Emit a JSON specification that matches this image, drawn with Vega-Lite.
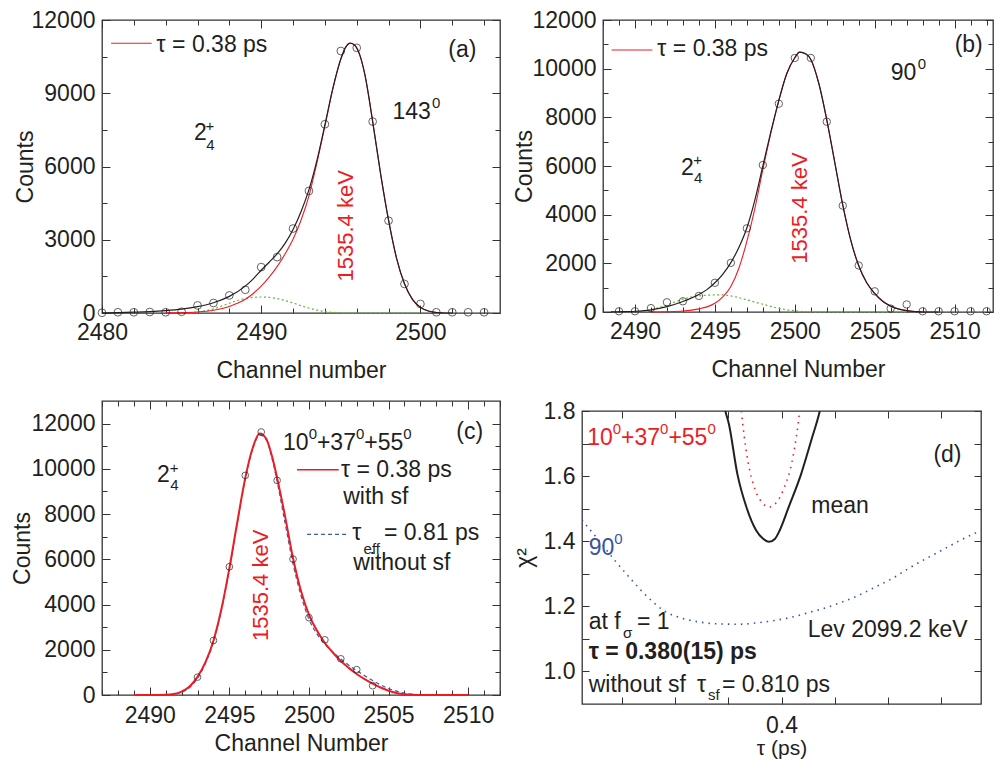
{
"$schema": "https://vega.github.io/schema/vega-lite/v6.json",
"background": "white",
"padding": {"left": 10, "top": 8, "right": 0, "bottom": 0},
"datasets": {
"a_pts": [{"ch":2480,"n":10},{"ch":2481,"n":30},{"ch":2482,"n":30},{"ch":2483,"n":40},{"ch":2484,"n":30},{"ch":2485,"n":50},{"ch":2486,"n":310},{"ch":2487,"n":410},{"ch":2488,"n":720},{"ch":2489,"n":950},{"ch":2490,"n":1880},{"ch":2491,"n":2290},{"ch":2492,"n":3460},{"ch":2493,"n":5000},{"ch":2494,"n":7730},{"ch":2495,"n":10730},{"ch":2496,"n":10860},{"ch":2497,"n":7840},{"ch":2498,"n":3780},{"ch":2499,"n":1190},{"ch":2500,"n":370},{"ch":2501,"n":30},{"ch":2502,"n":30},{"ch":2503,"n":30},{"ch":2504,"n":30}],
"a_blk": [{"ch":2480,"n":5},{"ch":2481,"n":15},{"ch":2482,"n":35},{"ch":2483,"n":60},{"ch":2484,"n":100},{"ch":2485,"n":160},{"ch":2486,"n":260},{"ch":2487,"n":420},{"ch":2488,"n":680},{"ch":2489,"n":1100},{"ch":2489.5,"n":1400},{"ch":2490,"n":1750},{"ch":2490.5,"n":2080},{"ch":2491,"n":2420},{"ch":2491.5,"n":2850},{"ch":2492,"n":3420},{"ch":2492.5,"n":4150},{"ch":2493,"n":5050},{"ch":2493.5,"n":6250},{"ch":2494,"n":7700},{"ch":2494.5,"n":9200},{"ch":2495,"n":10400},{"ch":2495.3,"n":10880},{"ch":2495.6,"n":11050},{"ch":2495.9,"n":10950},{"ch":2496.2,"n":10550},{"ch":2496.5,"n":9800},{"ch":2497,"n":7850},{"ch":2497.5,"n":5700},{"ch":2498,"n":3800},{"ch":2498.5,"n":2250},{"ch":2499,"n":1200},{"ch":2499.5,"n":560},{"ch":2500,"n":230},{"ch":2500.5,"n":80},{"ch":2501,"n":20},{"ch":2501.5,"n":0},{"ch":2502,"n":0}],
"a_red": [{"ch":2484,"n":5},{"ch":2485,"n":15},{"ch":2486,"n":40},{"ch":2487,"n":110},{"ch":2488,"n":270},{"ch":2489,"n":560},{"ch":2489.5,"n":800},{"ch":2490,"n":1100},{"ch":2490.5,"n":1470},{"ch":2491,"n":1900},{"ch":2491.5,"n":2420},{"ch":2492,"n":3020},{"ch":2492.5,"n":3800},{"ch":2493,"n":4800},{"ch":2493.5,"n":6150},{"ch":2494,"n":7650},{"ch":2494.5,"n":9180},{"ch":2495,"n":10400},{"ch":2495.3,"n":10880},{"ch":2495.6,"n":11050},{"ch":2495.9,"n":10950},{"ch":2496.2,"n":10550},{"ch":2496.5,"n":9800},{"ch":2497,"n":7850},{"ch":2497.5,"n":5700},{"ch":2498,"n":3800},{"ch":2498.5,"n":2250},{"ch":2499,"n":1200},{"ch":2499.5,"n":560},{"ch":2500,"n":230},{"ch":2500.5,"n":80},{"ch":2501,"n":20},{"ch":2501.5,"n":0}],
"a_grn": [{"ch":2485.5,"n":10},{"ch":2486,"n":40},{"ch":2486.5,"n":90},{"ch":2487,"n":170},{"ch":2487.5,"n":280},{"ch":2488,"n":400},{"ch":2488.5,"n":510},{"ch":2489,"n":590},{"ch":2489.5,"n":640},{"ch":2490,"n":655},{"ch":2490.5,"n":640},{"ch":2491,"n":590},{"ch":2491.5,"n":510},{"ch":2492,"n":410},{"ch":2492.5,"n":300},{"ch":2493,"n":200},{"ch":2493.5,"n":120},{"ch":2494,"n":60},{"ch":2494.5,"n":25},{"ch":2495,"n":10},{"ch":2496,"n":0},{"ch":2500,"n":0}],
"a_leg": [{"ch":2480.57,"ch2":2483.12,"n":11045}],
"a_txt": [{"ch":2483.43,"n":10703,"t":"τ = 0.38 ps"},{"ch":2498.25,"n":7946,"t":"143"},{"ch":2485.78,"n":7086,"t":"2"},{"ch":2501.75,"n":10498,"t":"(a)"}],
"a_sml": [{"ch":2500.73,"n":8384,"t":"0"},{"ch":2486.55,"n":6677,"t":"4"},{"ch":2486.5,"n":7435,"t":"+"}],
"a_rot": [{"ch":2495.3,"n":3570,"t":"1535.4 keV"}],
"b_pts": [{"ch":2489,"n":30},{"ch":2490,"n":30},{"ch":2491,"n":160},{"ch":2492,"n":400},{"ch":2493,"n":440},{"ch":2494,"n":660},{"ch":2495,"n":1200},{"ch":2496,"n":2020},{"ch":2497,"n":3440},{"ch":2498,"n":6040},{"ch":2499,"n":8560},{"ch":2500,"n":10440},{"ch":2501,"n":10440},{"ch":2502,"n":7820},{"ch":2503,"n":4370},{"ch":2504,"n":1910},{"ch":2505,"n":850},{"ch":2506,"n":140},{"ch":2507,"n":310},{"ch":2508,"n":30},{"ch":2509,"n":30},{"ch":2510,"n":30},{"ch":2511,"n":30},{"ch":2512,"n":30}],
"b_blk": [{"ch":2488.5,"n":5},{"ch":2489,"n":10},{"ch":2490,"n":30},{"ch":2491,"n":90},{"ch":2492,"n":220},{"ch":2493,"n":430},{"ch":2494,"n":720},{"ch":2494.5,"n":920},{"ch":2495,"n":1200},{"ch":2495.5,"n":1560},{"ch":2496,"n":2030},{"ch":2496.5,"n":2650},{"ch":2497,"n":3450},{"ch":2497.5,"n":4600},{"ch":2498,"n":6000},{"ch":2498.5,"n":7400},{"ch":2499,"n":8700},{"ch":2499.5,"n":9800},{"ch":2500,"n":10450},{"ch":2500.3,"n":10680},{"ch":2500.7,"n":10600},{"ch":2501,"n":10380},{"ch":2501.5,"n":9400},{"ch":2502,"n":7900},{"ch":2502.5,"n":6150},{"ch":2503,"n":4400},{"ch":2503.5,"n":2950},{"ch":2504,"n":1900},{"ch":2504.5,"n":1200},{"ch":2505,"n":760},{"ch":2505.5,"n":440},{"ch":2506,"n":240},{"ch":2506.5,"n":120},{"ch":2507,"n":55},{"ch":2507.5,"n":20},{"ch":2508,"n":0},{"ch":2509,"n":0}],
"b_red": [{"ch":2491,"n":0},{"ch":2492,"n":10},{"ch":2493,"n":40},{"ch":2494,"n":130},{"ch":2494.5,"n":210},{"ch":2495,"n":360},{"ch":2495.5,"n":620},{"ch":2496,"n":1050},{"ch":2496.5,"n":1800},{"ch":2497,"n":2900},{"ch":2497.5,"n":4250},{"ch":2498,"n":5850},{"ch":2498.5,"n":7350},{"ch":2499,"n":8680},{"ch":2499.5,"n":9800},{"ch":2500,"n":10450},{"ch":2500.3,"n":10680},{"ch":2500.7,"n":10600},{"ch":2501,"n":10380},{"ch":2501.5,"n":9400},{"ch":2502,"n":7900},{"ch":2502.5,"n":6150},{"ch":2503,"n":4400},{"ch":2503.5,"n":2950},{"ch":2504,"n":1900},{"ch":2504.5,"n":1200},{"ch":2505,"n":760},{"ch":2505.5,"n":440},{"ch":2506,"n":240},{"ch":2506.5,"n":120},{"ch":2507,"n":55},{"ch":2507.5,"n":20},{"ch":2508,"n":0}],
"b_grn": [{"ch":2490.5,"n":20},{"ch":2491,"n":95},{"ch":2491.5,"n":180},{"ch":2492,"n":290},{"ch":2492.5,"n":410},{"ch":2493,"n":530},{"ch":2493.5,"n":610},{"ch":2494,"n":660},{"ch":2494.5,"n":690},{"ch":2495,"n":700},{"ch":2495.5,"n":700},{"ch":2496,"n":660},{"ch":2496.5,"n":590},{"ch":2497,"n":500},{"ch":2497.5,"n":410},{"ch":2498,"n":320},{"ch":2498.5,"n":230},{"ch":2499,"n":150},{"ch":2499.5,"n":90},{"ch":2500,"n":50},{"ch":2500.5,"n":20},{"ch":2501,"n":5},{"ch":2502,"n":0},{"ch":2507,"n":0}],
"b_leg": [{"ch":2488.54,"ch2":2491.09,"n":10770}],
"b_txt": [{"ch":2491.4,"n":10510,"t":"τ = 0.38 ps"},{"ch":2506.0,"n":9535,"t":"90"},{"ch":2492.88,"n":5631,"t":"2"},{"ch":2510.0,"n":10674,"t":"(b)"}],
"b_sml": [{"ch":2507.69,"n":9987,"t":"0"},{"ch":2493.7,"n":5289,"t":"4"},{"ch":2493.65,"n":6021,"t":"+"}],
"b_rot": [{"ch":2500.33,"n":4270,"t":"1535.4 keV"}],
"c_pts": [{"ch":2493,"n":790},{"ch":2494,"n":2410},{"ch":2495,"n":5670},{"ch":2496,"n":9710},{"ch":2497,"n":11630},{"ch":2498,"n":9490},{"ch":2499,"n":6010},{"ch":2500,"n":3420},{"ch":2501,"n":2440},{"ch":2502,"n":1600},{"ch":2503,"n":1120},{"ch":2504,"n":410}],
"c_red": [{"ch":2489,"n":0},{"ch":2490,"n":0},{"ch":2491,"n":10},{"ch":2491.5,"n":40},{"ch":2492,"n":150},{"ch":2492.5,"n":380},{"ch":2493,"n":800},{"ch":2493.5,"n":1450},{"ch":2494,"n":2400},{"ch":2494.5,"n":3800},{"ch":2495,"n":5600},{"ch":2495.5,"n":7650},{"ch":2496,"n":9600},{"ch":2496.5,"n":11000},{"ch":2496.9,"n":11560},{"ch":2497.3,"n":11350},{"ch":2497.7,"n":10500},{"ch":2498,"n":9600},{"ch":2498.5,"n":7900},{"ch":2499,"n":6050},{"ch":2499.5,"n":4600},{"ch":2500,"n":3550},{"ch":2500.5,"n":2850},{"ch":2501,"n":2300},{"ch":2501.5,"n":1880},{"ch":2502,"n":1500},{"ch":2502.5,"n":1200},{"ch":2503,"n":930},{"ch":2503.5,"n":700},{"ch":2504,"n":500},{"ch":2504.5,"n":330},{"ch":2505,"n":190},{"ch":2505.5,"n":90},{"ch":2506,"n":35},{"ch":2506.5,"n":10},{"ch":2507,"n":0},{"ch":2510,"n":0}],
"c_blu": [{"ch":2489,"n":0},{"ch":2490,"n":0},{"ch":2491,"n":5},{"ch":2491.5,"n":30},{"ch":2492,"n":120},{"ch":2492.5,"n":330},{"ch":2493,"n":740},{"ch":2493.5,"n":1400},{"ch":2494,"n":2350},{"ch":2494.5,"n":3750},{"ch":2495,"n":5550},{"ch":2495.5,"n":7600},{"ch":2496,"n":9550},{"ch":2496.5,"n":10950},{"ch":2496.9,"n":11500},{"ch":2497.3,"n":11300},{"ch":2497.7,"n":10400},{"ch":2498,"n":9450},{"ch":2498.5,"n":7600},{"ch":2499,"n":5800},{"ch":2499.5,"n":4400},{"ch":2500,"n":3350},{"ch":2500.5,"n":2700},{"ch":2501,"n":2250},{"ch":2501.5,"n":1900},{"ch":2502,"n":1600},{"ch":2502.5,"n":1320},{"ch":2503,"n":1080},{"ch":2503.5,"n":850},{"ch":2504,"n":640},{"ch":2504.5,"n":450},{"ch":2505,"n":290},{"ch":2505.5,"n":170},{"ch":2506,"n":85},{"ch":2506.5,"n":35},{"ch":2507,"n":10},{"ch":2508,"n":0},{"ch":2510,"n":0}],
"c_legr": [{"ch":2499.25,"ch2":2501.87,"n":9965}],
"c_legb": [{"ch":2499.88,"ch2":2502.5,"n":7105}],
"c_txt": [{"ch":2498.37,"n":10821,"t":"10"},{"ch":2500.5,"n":10821,"t":"+37"},{"ch":2503.48,"n":10821,"t":"+55"},{"ch":2502.01,"n":9640,"t":"τ = 0.38 ps"},{"ch":2502.15,"n":8433,"t":"with sf"},{"ch":2502.72,"n":6840,"t":"τ"},{"ch":2504.71,"n":6840,"t":"= 0.81 ps"},{"ch":2502.78,"n":5541,"t":"without sf"},{"ch":2490.45,"n":9419,"t":"2"},{"ch":2509.25,"n":11334,"t":"(c)"}],
"c_sml": [{"ch":2499.98,"n":11334,"t":"0"},{"ch":2502.95,"n":11334,"t":"0"},{"ch":2505.93,"n":11334,"t":"0"},{"ch":2491.29,"n":9052,"t":"4"},{"ch":2491.25,"n":9826,"t":"+"},{"ch":2503.43,"n":6248,"t":"eff"}],
"c_rot": [{"ch":2497.0,"n":4850,"t":"1535.4 keV"}],
"d_blk": [{"tau":0.3775,"chi":1.86},{"tau":0.3789,"chi":1.8},{"tau":0.3802,"chi":1.761},{"tau":0.3834,"chi":1.607},{"tau":0.3868,"chi":1.505},{"tau":0.3905,"chi":1.433},{"tau":0.393,"chi":1.408},{"tau":0.3953,"chi":1.398},{"tau":0.3975,"chi":1.407},{"tau":0.3993,"chi":1.433},{"tau":0.4027,"chi":1.505},{"tau":0.4074,"chi":1.607},{"tau":0.4112,"chi":1.71},{"tau":0.4144,"chi":1.8},{"tau":0.4155,"chi":1.84}],
"d_red": [{"tau":0.3842,"chi":1.86},{"tau":0.3849,"chi":1.8},{"tau":0.3871,"chi":1.659},{"tau":0.3902,"chi":1.556},{"tau":0.3928,"chi":1.518},{"tau":0.3953,"chi":1.505},{"tau":0.398,"chi":1.518},{"tau":0.4006,"chi":1.556},{"tau":0.4043,"chi":1.659},{"tau":0.4068,"chi":1.8},{"tau":0.4075,"chi":1.86}],
"d_blu": [{"tau":0.325,"chi":1.465},{"tau":0.3315,"chi":1.401},{"tau":0.33775,"chi":1.337},{"tau":0.344,"chi":1.278},{"tau":0.35025,"chi":1.224},{"tau":0.3565,"chi":1.183},{"tau":0.36275,"chi":1.163},{"tau":0.369,"chi":1.152},{"tau":0.3765,"chi":1.146},{"tau":0.384,"chi":1.145},{"tau":0.3915,"chi":1.15},{"tau":0.39775,"chi":1.157},{"tau":0.404,"chi":1.167},{"tau":0.41025,"chi":1.181},{"tau":0.4165,"chi":1.195},{"tau":0.42275,"chi":1.213},{"tau":0.429,"chi":1.234},{"tau":0.43525,"chi":1.259},{"tau":0.4415,"chi":1.285},{"tau":0.44775,"chi":1.316},{"tau":0.454,"chi":1.345},{"tau":0.46025,"chi":1.372},{"tau":0.4665,"chi":1.4},{"tau":0.4734,"chi":1.427}],
"d_txt": [{"tau":0.4112,"chi":1.4876,"t":"mean"},{"tau":0.4571,"chi":1.6433,"t":"(d)"},{"tau":0.32752,"chi":1.1313,"t":"at f"},{"tau":0.34568,"chi":1.1313,"t":"= 1"},{"tau":0.32752,"chi":0.9369,"t":"without sf"},{"tau":0.36823,"chi":0.9369,"t":"τ"},{"tau":0.37763,"chi":0.9369,"t":"= 0.810 ps"},{"tau":0.40985,"chi":1.1058,"t":"Lev 2099.2 keV"}],
"d_bold": [{"tau":0.32752,"chi":1.0392,"t":"τ = 0.380(15) ps"}],
"d_sml": [{"tau":0.34041,"chi":1.1027,"t":"σ"},{"tau":0.37237,"chi":0.9113,"t":"sf"}],
"d_redt": [{"tau":0.32696,"chi":1.6946,"t":"10"},{"tau":0.3397,"chi":1.6946,"t":"+37"},{"tau":0.35748,"chi":1.6946,"t":"+55"}],
"d_reds": [{"tau":0.33658,"chi":1.7303,"t":"0"},{"tau":0.35436,"chi":1.7303,"t":"0"},{"tau":0.37214,"chi":1.7303,"t":"0"}],
"d_blut": [{"tau":0.32752,"chi":1.3586,"t":"90"}],
"d_blus": [{"tau":0.33714,"chi":1.3924,"t":"0"}]
},
"columns": 2,
"align": "none",
"spacing": {"row": 16, "column": 10},
"concat": [
{"width": 398, "height": 293,
 "resolve": {"axis": {"x": "independent", "y": "independent"}},
 "layer": [
  {"data": {"name": "a_grn"}, "mark": {"type": "line", "color": "#5cb83a", "strokeWidth": 1.2, "strokeDash": [2, 2.5], "interpolate": "monotone"},
   "encoding": {"x": {"field": "ch", "type": "quantitative", "scale": {"domain": [2480, 2505], "nice": false, "zero": false}, "axis": {"orient": "bottom", "values": [2480, 2490, 2500], "format": "d", "tickSize": -8, "labelPadding": 16, "title": "Channel number", "titlePadding": 15}},
                "y": {"field": "n", "type": "quantitative", "scale": {"domain": [0, 12000], "nice": false, "zero": false}, "axis": {"orient": "left", "values": [0, 3000, 6000, 9000, 12000], "format": "d", "tickSize": -8, "labelPadding": 15, "title": "Counts", "titlePadding": -6}}}},
  {"data": {"name": "a_red"}, "mark": {"type": "line", "color": "#ed1c24", "strokeWidth": 1.1, "interpolate": "monotone"},
   "encoding": {"x": {"field": "ch", "type": "quantitative", "axis": {"orient": "bottom", "values": [2482, 2484, 2486, 2488, 2492, 2494, 2496, 2498, 2502, 2504], "tickSize": -5, "labels": false, "title": null}},
                "y": {"field": "n", "type": "quantitative", "axis": {"orient": "left", "values": [1500, 4500, 7500, 10500], "tickSize": -5, "labels": false, "title": null}}}},
  {"data": {"name": "a_blk"}, "mark": {"type": "line", "color": "#231f20", "strokeWidth": 1.2, "interpolate": "monotone"},
   "encoding": {"x": {"field": "ch", "type": "quantitative", "axis": {"orient": "top", "values": [2480, 2490, 2500], "tickSize": -8, "labels": false, "title": null}},
                "y": {"field": "n", "type": "quantitative", "axis": {"orient": "right", "values": [0, 3000, 6000, 9000, 12000], "tickSize": -8, "labels": false, "title": null}}}},
  {"data": {"name": "a_pts"}, "mark": {"type": "point", "shape": "circle", "filled": false, "size": 60, "stroke": "#231f20", "strokeWidth": 1},
   "encoding": {"x": {"field": "ch", "type": "quantitative", "axis": {"orient": "top", "values": [2482, 2484, 2486, 2488, 2492, 2494, 2496, 2498, 2502, 2504], "tickSize": -5, "labels": false, "title": null}},
                "y": {"field": "n", "type": "quantitative", "axis": {"orient": "right", "values": [1500, 4500, 7500, 10500], "tickSize": -5, "labels": false, "title": null}}}},
  {"data": {"name": "a_leg"}, "mark": {"type": "rule", "color": "#ed1c24", "strokeWidth": 1.1},
   "encoding": {"x": {"field": "ch", "type": "quantitative", "axis": null}, "x2": {"field": "ch2"}, "y": {"field": "n", "type": "quantitative", "axis": null}}},
  {"data": {"name": "a_txt"}, "mark": {"type": "text", "align": "left", "baseline": "alphabetic", "fontSize": 23, "color": "#231f20"},
   "encoding": {"x": {"field": "ch", "type": "quantitative", "axis": null}, "y": {"field": "n", "type": "quantitative", "axis": null}, "text": {"field": "t"}}},
  {"data": {"name": "a_sml"}, "mark": {"type": "text", "align": "left", "baseline": "alphabetic", "fontSize": 15, "color": "#231f20"},
   "encoding": {"x": {"field": "ch", "type": "quantitative", "axis": null}, "y": {"field": "n", "type": "quantitative", "axis": null}, "text": {"field": "t"}}},
  {"data": {"name": "a_rot"}, "mark": {"type": "text", "align": "center", "baseline": "middle", "angle": 270, "fontSize": 22, "color": "#ed1c24"},
   "encoding": {"x": {"field": "ch", "type": "quantitative", "axis": null}, "y": {"field": "n", "type": "quantitative", "axis": null}, "text": {"field": "t"}}}
 ]},
{"width": 390, "height": 292,
 "resolve": {"axis": {"x": "independent", "y": "independent"}},
 "layer": [
  {"data": {"name": "b_grn"}, "mark": {"type": "line", "color": "#5cb83a", "strokeWidth": 1.2, "strokeDash": [2, 2.5], "interpolate": "monotone"},
   "encoding": {"x": {"field": "ch", "type": "quantitative", "scale": {"domain": [2488, 2512.4], "nice": false, "zero": false}, "axis": {"orient": "bottom", "values": [2490, 2495, 2500, 2505, 2510], "format": "d", "tickSize": -8, "labelPadding": 16, "title": "Channel Number", "titlePadding": 15}},
                "y": {"field": "n", "type": "quantitative", "scale": {"domain": [0, 12000], "nice": false, "zero": false}, "axis": {"orient": "left", "values": [0, 2000, 4000, 6000, 8000, 10000, 12000], "format": "d", "tickSize": -8, "labelPadding": 15, "title": "Counts", "titlePadding": -4}}}},
  {"data": {"name": "b_red"}, "mark": {"type": "line", "color": "#ed1c24", "strokeWidth": 1.1, "interpolate": "monotone"},
   "encoding": {"x": {"field": "ch", "type": "quantitative", "axis": {"orient": "bottom", "values": [2488, 2489, 2491, 2492, 2493, 2494, 2496, 2497, 2498, 2499, 2501, 2502, 2503, 2504, 2506, 2507, 2508, 2509, 2511, 2512], "tickSize": -5, "labels": false, "title": null}},
                "y": {"field": "n", "type": "quantitative", "axis": {"orient": "left", "values": [1000, 3000, 5000, 7000, 9000, 11000], "tickSize": -5, "labels": false, "title": null}}}},
  {"data": {"name": "b_blk"}, "mark": {"type": "line", "color": "#231f20", "strokeWidth": 1.2, "interpolate": "monotone"},
   "encoding": {"x": {"field": "ch", "type": "quantitative", "axis": {"orient": "top", "values": [2490, 2495, 2500, 2505, 2510], "tickSize": -8, "labels": false, "title": null}},
                "y": {"field": "n", "type": "quantitative", "axis": {"orient": "right", "values": [0, 2000, 4000, 6000, 8000, 10000, 12000], "tickSize": -8, "labels": false, "title": null}}}},
  {"data": {"name": "b_pts"}, "mark": {"type": "point", "shape": "circle", "filled": false, "size": 55, "stroke": "#231f20", "strokeWidth": 1},
   "encoding": {"x": {"field": "ch", "type": "quantitative", "axis": {"orient": "top", "values": [2488, 2489, 2491, 2492, 2493, 2494, 2496, 2497, 2498, 2499, 2501, 2502, 2503, 2504, 2506, 2507, 2508, 2509, 2511, 2512], "tickSize": -5, "labels": false, "title": null}},
                "y": {"field": "n", "type": "quantitative", "axis": {"orient": "right", "values": [1000, 3000, 5000, 7000, 9000, 11000], "tickSize": -5, "labels": false, "title": null}}}},
  {"data": {"name": "b_leg"}, "mark": {"type": "rule", "color": "#ed1c24", "strokeWidth": 1.1},
   "encoding": {"x": {"field": "ch", "type": "quantitative", "axis": null}, "x2": {"field": "ch2"}, "y": {"field": "n", "type": "quantitative", "axis": null}}},
  {"data": {"name": "b_txt"}, "mark": {"type": "text", "align": "left", "baseline": "alphabetic", "fontSize": 23, "color": "#231f20"},
   "encoding": {"x": {"field": "ch", "type": "quantitative", "axis": null}, "y": {"field": "n", "type": "quantitative", "axis": null}, "text": {"field": "t"}}},
  {"data": {"name": "b_sml"}, "mark": {"type": "text", "align": "left", "baseline": "alphabetic", "fontSize": 15, "color": "#231f20"},
   "encoding": {"x": {"field": "ch", "type": "quantitative", "axis": null}, "y": {"field": "n", "type": "quantitative", "axis": null}, "text": {"field": "t"}}},
  {"data": {"name": "b_rot"}, "mark": {"type": "text", "align": "center", "baseline": "middle", "angle": 270, "fontSize": 22, "color": "#ed1c24"},
   "encoding": {"x": {"field": "ch", "type": "quantitative", "axis": null}, "y": {"field": "n", "type": "quantitative", "axis": null}, "text": {"field": "t"}}}
 ]},
{"width": 398, "height": 294,
 "resolve": {"axis": {"x": "independent", "y": "independent"}},
 "layer": [
  {"data": {"name": "c_blu"}, "mark": {"type": "line", "color": "#3c5aa8", "strokeWidth": 1.2, "strokeDash": [4, 3], "interpolate": "monotone"},
   "encoding": {"x": {"field": "ch", "type": "quantitative", "scale": {"domain": [2487, 2512], "nice": false, "zero": false}, "axis": {"orient": "bottom", "values": [2490, 2495, 2500, 2505, 2510], "format": "d", "tickSize": -8, "labelPadding": 17, "title": "Channel Number", "titlePadding": 5}},
                "y": {"field": "n", "type": "quantitative", "scale": {"domain": [0, 13000], "nice": false, "zero": false}, "axis": {"orient": "left", "values": [0, 2000, 4000, 6000, 8000, 10000, 12000], "format": "d", "tickSize": -8, "labelPadding": 15, "title": "Counts", "titlePadding": -3}}}},
  {"data": {"name": "c_red"}, "mark": {"type": "line", "color": "#ed1c24", "strokeWidth": 2, "interpolate": "monotone"},
   "encoding": {"x": {"field": "ch", "type": "quantitative", "axis": {"orient": "bottom", "values": [2487, 2488, 2489, 2491, 2492, 2493, 2494, 2496, 2497, 2498, 2499, 2501, 2502, 2503, 2504, 2506, 2507, 2508, 2509, 2511, 2512], "tickSize": -5, "labels": false, "title": null}},
                "y": {"field": "n", "type": "quantitative", "axis": {"orient": "left", "values": [1000, 3000, 5000, 7000, 9000, 11000], "tickSize": -5, "labels": false, "title": null}}}},
  {"data": {"name": "c_pts"}, "mark": {"type": "point", "shape": "circle", "filled": false, "size": 45, "stroke": "#231f20", "strokeWidth": 1},
   "encoding": {"x": {"field": "ch", "type": "quantitative", "axis": {"orient": "top", "values": [2490, 2495, 2500, 2505, 2510], "tickSize": -8, "labels": false, "title": null}},
                "y": {"field": "n", "type": "quantitative", "axis": {"orient": "right", "values": [0, 2000, 4000, 6000, 8000, 10000, 12000], "tickSize": -8, "labels": false, "title": null}}}},
  {"data": {"name": "c_legr"}, "mark": {"type": "rule", "color": "#ed1c24", "strokeWidth": 1.5},
   "encoding": {"x": {"field": "ch", "type": "quantitative", "axis": {"orient": "top", "values": [2487, 2488, 2489, 2491, 2492, 2493, 2494, 2496, 2497, 2498, 2499, 2501, 2502, 2503, 2504, 2506, 2507, 2508, 2509, 2511, 2512], "tickSize": -5, "labels": false, "title": null}}, "x2": {"field": "ch2"},
                "y": {"field": "n", "type": "quantitative", "axis": {"orient": "right", "values": [1000, 3000, 5000, 7000, 9000, 11000], "tickSize": -5, "labels": false, "title": null}}}},
  {"data": {"name": "c_legb"}, "mark": {"type": "rule", "color": "#3c5aa8", "strokeWidth": 1.2, "strokeDash": [4, 3]},
   "encoding": {"x": {"field": "ch", "type": "quantitative", "axis": null}, "x2": {"field": "ch2"}, "y": {"field": "n", "type": "quantitative", "axis": null}}},
  {"data": {"name": "c_txt"}, "mark": {"type": "text", "align": "left", "baseline": "alphabetic", "fontSize": 23, "color": "#231f20"},
   "encoding": {"x": {"field": "ch", "type": "quantitative", "axis": null}, "y": {"field": "n", "type": "quantitative", "axis": null}, "text": {"field": "t"}}},
  {"data": {"name": "c_sml"}, "mark": {"type": "text", "align": "left", "baseline": "alphabetic", "fontSize": 15, "color": "#231f20"},
   "encoding": {"x": {"field": "ch", "type": "quantitative", "axis": null}, "y": {"field": "n", "type": "quantitative", "axis": null}, "text": {"field": "t"}}},
  {"data": {"name": "c_rot"}, "mark": {"type": "text", "align": "center", "baseline": "middle", "angle": 270, "fontSize": 22, "color": "#ed1c24"},
   "encoding": {"x": {"field": "ch", "type": "quantitative", "axis": null}, "y": {"field": "n", "type": "quantitative", "axis": null}, "text": {"field": "t"}}}
 ]},
{"width": 399, "height": 293,
 "resolve": {"axis": {"x": "independent", "y": "independent"}},
 "layer": [
  {"data": {"name": "d_blu"}, "mark": {"type": "line", "color": "#3953a4", "strokeWidth": 1.6, "strokeDash": [1.5, 5], "interpolate": "monotone", "clip": true},
   "encoding": {"x": {"field": "tau", "type": "quantitative", "scale": {"domain": [0.325, 0.475], "nice": false, "zero": false}, "axis": {"orient": "bottom", "values": [0.34, 0.36, 0.38, 0.4, 0.42, 0.44, 0.46], "labelExpr": "datum.value == 0.4 ? '0.4' : ''", "tickSize": -7, "labelPadding": 17, "title": "τ (ps)", "titleFontSize": 21, "titlePadding": 0}},
                "y": {"field": "chi", "type": "quantitative", "scale": {"domain": [0.9, 1.8], "nice": false, "zero": false}, "axis": {"orient": "left", "values": [1.0, 1.2, 1.4, 1.6, 1.8], "format": ".1f", "tickSize": -7, "labelPadding": 14, "title": "χ²", "titlePadding": 7}}}},
  {"data": {"name": "d_red"}, "mark": {"type": "line", "color": "#ed1c24", "strokeWidth": 1.6, "strokeDash": [1.5, 5], "interpolate": "monotone", "clip": true},
   "encoding": {"x": {"field": "tau", "type": "quantitative", "axis": {"orient": "top", "values": [0.34, 0.36, 0.38, 0.4, 0.42, 0.44, 0.46], "tickSize": -7, "labels": false, "title": null}},
                "y": {"field": "chi", "type": "quantitative", "axis": {"orient": "left", "values": [1.1, 1.3, 1.5, 1.7], "tickSize": -7, "labels": false, "title": null}}}},
  {"data": {"name": "d_blk"}, "mark": {"type": "line", "color": "#231f20", "strokeWidth": 2, "interpolate": "monotone", "clip": true},
   "encoding": {"x": {"field": "tau", "type": "quantitative", "axis": null},
                "y": {"field": "chi", "type": "quantitative", "axis": {"orient": "right", "values": [1.0, 1.2, 1.4, 1.6, 1.8], "tickSize": -7, "labels": false, "title": null}}}},
  {"data": {"name": "d_txt"}, "mark": {"type": "text", "align": "left", "baseline": "alphabetic", "fontSize": 23, "color": "#231f20"},
   "encoding": {"x": {"field": "tau", "type": "quantitative", "axis": null}, "y": {"field": "chi", "type": "quantitative", "axis": {"orient": "right", "values": [1.1, 1.3, 1.5, 1.7], "tickSize": -7, "labels": false, "title": null}}, "text": {"field": "t"}}},
  {"data": {"name": "d_bold"}, "mark": {"type": "text", "align": "left", "baseline": "alphabetic", "fontSize": 23, "fontWeight": "bold", "color": "#231f20"},
   "encoding": {"x": {"field": "tau", "type": "quantitative", "axis": null}, "y": {"field": "chi", "type": "quantitative", "axis": null}, "text": {"field": "t"}}},
  {"data": {"name": "d_sml"}, "mark": {"type": "text", "align": "left", "baseline": "alphabetic", "fontSize": 15, "color": "#231f20"},
   "encoding": {"x": {"field": "tau", "type": "quantitative", "axis": null}, "y": {"field": "chi", "type": "quantitative", "axis": null}, "text": {"field": "t"}}},
  {"data": {"name": "d_redt"}, "mark": {"type": "text", "align": "left", "baseline": "alphabetic", "fontSize": 23, "color": "#ed1c24"},
   "encoding": {"x": {"field": "tau", "type": "quantitative", "axis": null}, "y": {"field": "chi", "type": "quantitative", "axis": null}, "text": {"field": "t"}}},
  {"data": {"name": "d_reds"}, "mark": {"type": "text", "align": "left", "baseline": "alphabetic", "fontSize": 15, "color": "#ed1c24"},
   "encoding": {"x": {"field": "tau", "type": "quantitative", "axis": null}, "y": {"field": "chi", "type": "quantitative", "axis": null}, "text": {"field": "t"}}},
  {"data": {"name": "d_blut"}, "mark": {"type": "text", "align": "left", "baseline": "alphabetic", "fontSize": 23, "color": "#3953a4"},
   "encoding": {"x": {"field": "tau", "type": "quantitative", "axis": null}, "y": {"field": "chi", "type": "quantitative", "axis": null}, "text": {"field": "t"}}},
  {"data": {"name": "d_blus"}, "mark": {"type": "text", "align": "left", "baseline": "alphabetic", "fontSize": 15, "color": "#3953a4"},
   "encoding": {"x": {"field": "tau", "type": "quantitative", "axis": null}, "y": {"field": "chi", "type": "quantitative", "axis": null}, "text": {"field": "t"}}}
 ]}
],
"config": {
 "view": {"stroke": "#333333", "strokeWidth": 1.3},
 "font": "Liberation Sans",
 "axis": {"grid": false, "domain": false, "labelFont": "Liberation Sans", "labelFontSize": 23, "labelColor": "#231f20", "titleFont": "Liberation Sans", "titleFontSize": 23, "titleFontWeight": "normal", "titleColor": "#231f20", "tickColor": "#333333", "tickWidth": 1, "labelFlush": false, "minExtent": 0, "labelOverlap": false},
 "text": {"font": "Liberation Sans"}
}
}
